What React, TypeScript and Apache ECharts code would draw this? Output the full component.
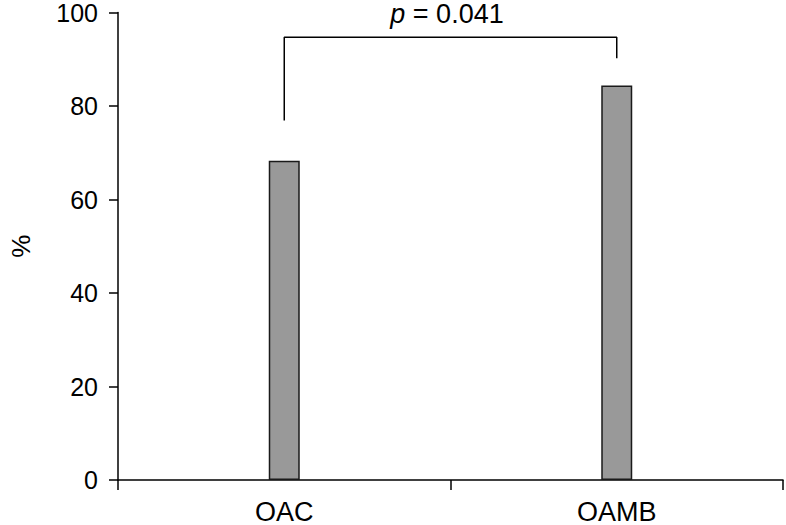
import React, { useEffect, useRef } from "react";
import * as echarts from "echarts";

const categories = ["OAC", "OAMB"];
const values = [68.3, 84.4];
const yTicks = [0, 20, 40, 60, 80, 100];
// bracket: [category, y] points
const bracket: [string, number][] = [
  ["OAC", 76.9],
  ["OAC", 94.7],
  ["OAMB", 94.7],
  ["OAMB", 90.2],
];
const pText = "0.041";

export default function App() {
  const ref = useRef<HTMLDivElement>(null);
  useEffect(() => {
    const chart = echarts.init(ref.current!, null, { renderer: "svg" });
    const font = "Liberation Sans, Arial, sans-serif";
    chart.setOption({
      animation: false,
      textStyle: { fontFamily: font },
      grid: { left: 110, right: 3, top: 12, bottom: 44, containLabel: false },
      xAxis: {
        type: "category",
        data: categories,
        boundaryGap: true,
        axisLine: { lineStyle: { color: "#000", width: 1.5 } },
        axisTick: { show: true, length: 10, lineStyle: { color: "#000", width: 1.5 } },
        axisLabel: { color: "#000", fontSize: 27, margin: 18, fontFamily: font },
      },
      yAxis: {
        type: "value",
        min: yTicks[0],
        max: yTicks[yTicks.length - 1],
        interval: 20,
        name: "%",
        nameLocation: "middle",
        nameGap: 84,
        nameRotate: 90,
        nameTextStyle: { color: "#000", fontSize: 26, fontFamily: font },
        axisLine: { show: true, lineStyle: { color: "#000", width: 1.5 } },
        axisTick: { show: true, length: 9, lineStyle: { color: "#000", width: 1.5 } },
        axisLabel: { color: "#000", fontSize: 25, margin: 20, fontFamily: font },
        splitLine: { show: false },
      },
      series: [
        {
          type: "bar",
          data: values,
          barWidth: 31,
          itemStyle: { color: "#999999", borderColor: "#1a1a1a", borderWidth: 1.5 },
        },
        {
          type: "line",
          data: bracket,
          symbol: "none",
          lineStyle: { color: "#000", width: 1.5 },
          silent: true,
        },
      ],
      graphic: [
        {
          type: "text",
          x: 447,
          y: 14,
          style: {
            text: "{i|p} = " + pText,
            textAlign: "center",
            textVerticalAlign: "middle",
            fill: "#000",
            fontSize: 27,
            fontFamily: font,
            rich: {
              i: { fontStyle: "italic", fontSize: 27, fontFamily: font, fill: "#000" },
            },
          },
        },
      ],
    });
    return () => chart.dispose();
  }, []);
  return (
    <div
      ref={ref}
      style={{ position: "absolute", left: 0, top: 0, width: 786, height: 525 }}
    />
  );
}
